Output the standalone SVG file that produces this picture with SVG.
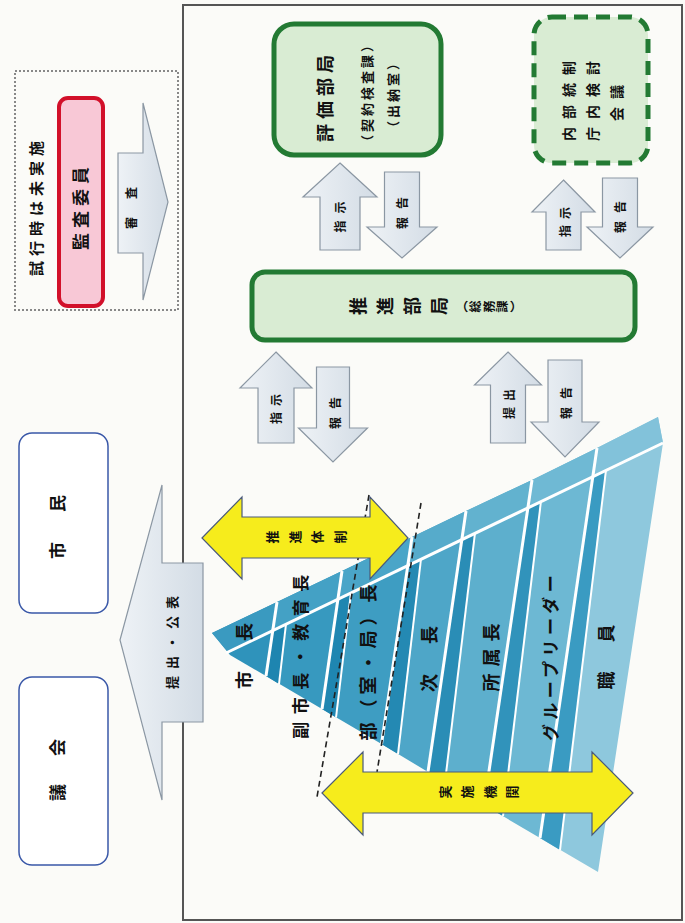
<svg xmlns="http://www.w3.org/2000/svg" width="685" height="923" viewBox="0 0 685 923">
<defs>
<linearGradient id="ag" x1="0" y1="0" x2="1" y2="0">
<stop offset="0" stop-color="#eef2f6"/><stop offset="1" stop-color="#d3dce5"/>
</linearGradient>
<style>
.t{font-family:"Liberation Sans","Noto Sans CJK JP",sans-serif;font-weight:bold;fill:#111;}
.r{text-anchor:middle;dominant-baseline:central;}
.v{writing-mode:vertical-rl;}
.gb{fill:#d9ecd3;stroke:#237a33;stroke-width:5;}
.arr{fill:url(#ag);stroke:#8b97a3;stroke-width:1.2;}
.yel{fill:#f6ec1c;stroke:#4a5a7a;stroke-width:1.2;}
.wl{stroke:#ffffff;stroke-width:3;fill:none;}
.ws{stroke:#ffffff;stroke-width:2;fill:none;}
.dl{stroke:#222;stroke-width:1.6;stroke-dasharray:6 4;fill:none;}
.ob{fill:#ffffff;stroke:#3a58a8;stroke-width:1.5;}
</style>
</defs>
<rect x="0" y="0" width="685" height="923" fill="#fbfbf8"/>

<!-- main frame -->
<rect x="183" y="5" width="499" height="915" fill="none" stroke="#555" stroke-width="2"/>

<!-- trial box -->
<g id="trial">
<rect x="15" y="71" width="163" height="239" fill="none" stroke="#888" stroke-width="2" stroke-dasharray="2 2"/>
<text class="t r" font-size="15" letter-spacing="5" transform="translate(36,206) rotate(-90)">試行時は未実施</text>
</g>

<g id="n-kansa">
<rect x="59" y="98" width="44" height="208" rx="9" fill="#f8c8d6" stroke="#d2102a" stroke-width="4"/>
<text class="t r" font-size="17" letter-spacing="5" transform="translate(81,206) rotate(-90)">監査委員</text>
</g>

<g id="n-shimin">
<rect class="ob" x="19" y="433" width="89" height="180" rx="13"/>
<text class="t r" font-size="17" transform="translate(58,527) rotate(-90)">市<tspan dx="30">民</tspan></text>
</g>
<g id="n-gikai">
<rect class="ob" x="19" y="677" width="89" height="188" rx="13"/>
<text class="t r" font-size="17" transform="translate(58,770) rotate(-90)">議<tspan dx="28">会</tspan></text>
</g>

<g id="n-hyoka">
<rect class="gb" x="274" y="24" width="167" height="131" rx="20"/>
<text class="t r" font-size="18" letter-spacing="5" transform="translate(326,96) rotate(-90)">評価部局</text>
<text class="t r" font-size="13" letter-spacing="3" transform="translate(367,92) rotate(-90)">（契約検査課）</text>
<text class="t r" font-size="13" letter-spacing="3" transform="translate(393,94) rotate(-90)">（出納室）</text>
</g>

<g id="n-naibu">
<rect x="534" y="17" width="114" height="146" rx="18" fill="#d9ecd3" stroke="#237a33" stroke-width="5" stroke-dasharray="14 8"/>
<text class="t r" font-size="14" letter-spacing="8" transform="translate(569,97) rotate(-90)">内部統制</text>
<text class="t r" font-size="14" letter-spacing="8" transform="translate(593,97) rotate(-90)">庁内検討</text>
<text class="t r" font-size="14" letter-spacing="8" transform="translate(617,99) rotate(-90)">会議</text>
</g>

<g id="n-suishin">
<rect class="gb" x="252" y="272" width="383" height="68" rx="13"/>
<text class="t v" font-size="18" letter-spacing="9" transform="translate(349,308) rotate(-90)">推進部局</text>
<text class="t v" font-size="12" letter-spacing="1.5" transform="translate(456,308) rotate(-90)">（総務課）</text>
</g>

<!-- pyramid -->
<g id="n-pyramid">
<polygon fill="#2f93bb" points="212,633 277,602 273,630 266,676 230,655"/>
<polygon fill="#3799bf" points="277,602 342,571 338,599 322,709 266,676 273,630"/>
<polygon fill="#3e9dc2" points="342,571 412,537 408,565 381.5,744 322,709 338,599"/>
<polygon fill="#4ea6c8" points="412,537 466,511 462,539 428,772 381.5,744 408,565"/>
<polygon fill="#5dafcd" points="466,511 532,480 528,508 484,805 428,772 462,539"/>
<polygon fill="#6db8d3" points="532,480 597,448 593,476 540,838 484,805 528,508"/>
<polygon fill="#8ec8dd" points="597,448 658,417 663,443 598,872 540,838 593,476"/>
<polygon fill="#3a9ac0" points="212,633 277,602 273,630 228,652"/>
<polygon fill="#44a1c5" points="277,602 342,571 338,599 273,630"/>
<polygon fill="#4aa5c8" points="342,571 412,537 408,565 338,599"/>
<polygon fill="#56abcb" points="412,537 466,511 462,539 408,565"/>
<polygon fill="#62b2cf" points="466,511 532,480 528,508 462,539"/>
<polygon fill="#6fb9d4" points="532,480 597,448 593,476 528,508"/>
<polygon fill="#82c2da" points="597,448 658,417 663,443 593,476"/>
<polygon fill="#1e85b0" points="273,630 286,624 279,684 266,676"/>
<polygon fill="#1f86b1" points="338,599 351,592.5 336,717.5 322,709"/>
<polygon fill="#2489b3" points="408,565 421,559 398,754 381.5,744"/>
<polygon fill="#2a8db6" points="462,539 475,533 445,782 428,772"/>
<polygon fill="#3193bb" points="528,508 541,501 503,816 484,805"/>
<polygon fill="#3a9bc2" points="593,476 606,470 560,850 540,838"/>
<line class="wl" x1="226" y1="653" x2="663" y2="443"/>
<line class="wl" x1="277" y1="602" x2="266" y2="676"/>
<line class="wl" x1="342" y1="571" x2="322" y2="709"/>
<line class="wl" x1="412" y1="537" x2="381.5" y2="744"/>
<line class="wl" x1="466" y1="511" x2="428" y2="772"/>
<line class="wl" x1="532" y1="480" x2="484" y2="805"/>
<line class="wl" x1="597" y1="448" x2="540" y2="838"/>
<line class="ws" x1="286" y1="624" x2="279" y2="684"/>
<line class="ws" x1="351" y1="592.5" x2="336" y2="717.5"/>
<line class="ws" x1="421" y1="559" x2="398" y2="754"/>
<line class="ws" x1="475" y1="533" x2="445" y2="782"/>
<line class="ws" x1="541" y1="501" x2="503" y2="816"/>
<line class="ws" x1="606" y1="470" x2="560" y2="850"/>
<line class="dl" x1="369" y1="495" x2="317" y2="797"/>
<line class="dl" x1="421" y1="503" x2="377" y2="772"/>
<text class="t r" font-size="18" transform="translate(245,656) rotate(-90)">市<tspan dx="30">長</tspan></text>
<text class="t r" font-size="17" letter-spacing="7.5" transform="translate(301,653) rotate(-90)">副市長・教育長</text>
<text class="t r" font-size="18" letter-spacing="5" transform="translate(369,660) rotate(-90)">部（室・局）長</text>
<text class="t r" font-size="18" transform="translate(430,659) rotate(-90)">次<tspan dx="30">長</tspan></text>
<text class="t r" font-size="18" letter-spacing="7" transform="translate(492,654) rotate(-90)">所属長</text>
<text class="t r" font-size="17" letter-spacing="4.4" transform="translate(551,656) rotate(-90)">グループリーダー</text>
<text class="t r" font-size="18" transform="translate(607,657) rotate(-90)">職<tspan dx="29">員</tspan></text>
</g>

<!-- connectors -->
<g id="connectors">
<polygon class="arr" points="118,153 143,153 143,103 168,202 143,300 143,253 118,253"/>
<polygon class="arr" points="120,640 162,485 162,563 203,563 203,722 162,722 162,800"/>
<polygon class="arr" points="340,163 377,197 360,197 360,250 320,250 320,197 303,197"/>
<polygon class="arr" points="384.5,172 419.5,172 419.5,227 437,227 402,258 367,227 384.5,227"/>
<polygon class="arr" points="563.5,180 595,212 581,212 581,250 546,250 546,212 532,212"/>
<polygon class="arr" points="602.5,178 637.5,178 637.5,227 653,227 620,258 587,227 602.5,227"/>
<polygon class="arr" points="276,352 312,388 294,388 294,443 258,443 258,388 240,388"/>
<polygon class="arr" points="316.5,367 349.5,367 349.5,428 367.5,428 333,462 298.5,428 316.5,428"/>
<polygon class="arr" points="508,352 541.5,385 525.5,385 525.5,443 490.5,443 490.5,385 474.5,385"/>
<polygon class="arr" points="548,360 582,360 582,422 599,422 565,457 531,422 548,422"/>
<polygon class="yel" points="202,538 242,497 242,517 370,517 370,497 408,538 370,579 370,558 242,558 242,579"/>
<polygon class="yel" points="322,793 363,752 363,772 592,772 592,752 633,793 592,835 592,813 363,813 363,835"/>
<text class="t r" font-size="12" transform="translate(132,208) rotate(-90)">審<tspan dx="18">査</tspan></text>
<text class="t r" font-size="13" letter-spacing="7" transform="translate(172,639) rotate(-90)">提出・公表</text>
<text class="t r" font-size="12" transform="translate(341,217) rotate(-90)">指<tspan dx="7">示</tspan></text>
<text class="t r" font-size="12" transform="translate(403,213) rotate(-90)">報<tspan dx="8">告</tspan></text>
<text class="t r" font-size="12" transform="translate(566,222) rotate(-90)">指<tspan dx="6">示</tspan></text>
<text class="t r" font-size="12" transform="translate(621,217) rotate(-90)">報<tspan dx="8">告</tspan></text>
<text class="t r" font-size="12" transform="translate(277,409) rotate(-90)">指<tspan dx="6">示</tspan></text>
<text class="t r" font-size="12" transform="translate(336,413) rotate(-90)">報<tspan dx="8">告</tspan></text>
<text class="t r" font-size="12" transform="translate(510,404) rotate(-90)">提<tspan dx="6">出</tspan></text>
<text class="t r" font-size="12" transform="translate(567,403) rotate(-90)">報<tspan dx="8">告</tspan></text>
<text class="t v" font-size="13" letter-spacing="9.7" transform="translate(265.5,538) rotate(-90)">推進体制</text>
<text class="t v" font-size="13" letter-spacing="9.3" transform="translate(438.5,793) rotate(-90)">実施機関</text>
</g>
</svg>
